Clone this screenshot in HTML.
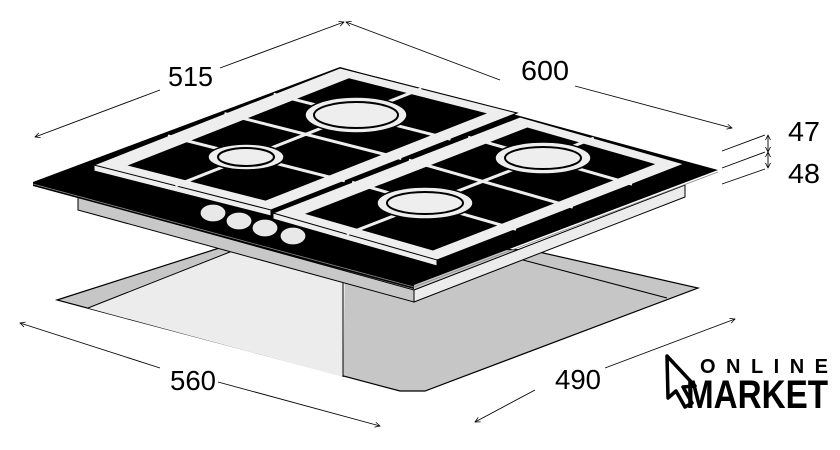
<!DOCTYPE html>
<html><head><style>html,body{margin:0;padding:0;background:#fff}svg{display:block}</style></head>
<body>
<svg width="840" height="450" viewBox="0 0 840 450" xmlns="http://www.w3.org/2000/svg" font-family="Liberation Sans, sans-serif">
<defs>
<marker id="ar" viewBox="0 0 10 10" refX="9" refY="5" markerWidth="7" markerHeight="7" orient="auto-start-reverse"><path d="M1,1 L9,5 L1,9" fill="none" stroke="#000" stroke-width="1.2"/></marker>
</defs>
<!-- cutout -->
<polygon points="57,300 235,243 530,250 698,288 425,391 400,391" fill="#c6c6c6" stroke="#000" stroke-width="1.2"/>
<polygon points="88,308 235,250 345,282 343,377" fill="#ececec"/>
<line x1="88" y1="308" x2="235" y2="250" stroke="#000"/>
<line x1="343" y1="282" x2="343" y2="377" stroke="#000"/>
<line x1="523" y1="260" x2="667" y2="298" stroke="#000"/>
<!-- body -->
<polygon points="78,197 414,290 414,302 78,210" fill="#c8c8c8" stroke="#000"/>
<polygon points="414,290 685,185 685,197 414,302" fill="#ececec" stroke="#000"/>
<!-- glass -->
<polygon points="33,182 340,67 718,170 414,285 414,289 33,186" fill="#000"/>
<polyline points="33,184 414,287 718,172" fill="none" stroke="#888" stroke-width="0.8"/>
<!-- knobs -->
<g fill="#e8e8e8" stroke="#000" stroke-width="1.2">
<ellipse cx="213" cy="213" rx="13" ry="9"/><ellipse cx="239" cy="221" rx="13" ry="9"/><ellipse cx="265" cy="228" rx="13" ry="9"/><ellipse cx="293" cy="236" rx="13" ry="9"/>
</g>
<!-- left grate -->
<g>
<polygon points="94,165 340,68 517,113 271,210 271,216 94,171" fill="#eee" stroke="#000"/>
<polygon points="94,165 340,68 517,113 271,210" fill="#eee" stroke="#000"/>
<g transform="matrix(246,-97,177,45,94,165)">
<polygon points="0.05,0.12 0.95,0.12 0.95,0.9 0.05,0.9" fill="#000"/>
<g stroke="#eee" stroke-width="3" fill="none">
<line x1="0.3" y1="0" x2="0.3" y2="1" vector-effect="non-scaling-stroke"/>
<line x1="0.53" y1="0" x2="0.53" y2="1" vector-effect="non-scaling-stroke"/>
<line x1="0.73" y1="0" x2="0.73" y2="1" vector-effect="non-scaling-stroke"/>
<line x1="0" y1="0.46" x2="1" y2="0.46" vector-effect="non-scaling-stroke"/>
</g></g>
</g>
<!-- right grate -->
<g>
<polygon points="273,213 520,117 684,164 437,260 437,266 273,219" fill="#eee" stroke="#000"/>
<polygon points="273,213 520,117 684,164 437,260" fill="#eee" stroke="#000"/>
<g transform="matrix(247,-96,164,47,273,213)">
<polygon points="0.05,0.12 0.95,0.12 0.95,0.9 0.05,0.9" fill="#000"/>
<g stroke="#eee" stroke-width="3" fill="none">
<line x1="0.32" y1="0" x2="0.32" y2="1" vector-effect="non-scaling-stroke"/>
<line x1="0.55" y1="0" x2="0.55" y2="1" vector-effect="non-scaling-stroke"/>
<line x1="0.79" y1="0" x2="0.79" y2="1" vector-effect="non-scaling-stroke"/>
<line x1="0" y1="0.45" x2="1" y2="0.45" vector-effect="non-scaling-stroke"/>
</g></g>
</g>
<!-- burners -->
<g stroke="#000" stroke-width="1.5">
<ellipse cx="356" cy="115" rx="51" ry="18" fill="#eee"/><ellipse cx="356" cy="115" rx="42" ry="13" fill="#eee" stroke-width="2"/>
<ellipse cx="246" cy="157" rx="38" ry="13" fill="#eee"/><ellipse cx="246" cy="157" rx="28" ry="9" fill="#eee" stroke-width="2"/>
<ellipse cx="543" cy="158" rx="48" ry="16" fill="#eee"/><ellipse cx="543" cy="158" rx="38" ry="11" fill="#eee" stroke-width="2"/>
<ellipse cx="425" cy="203" rx="48" ry="16" fill="#eee"/><ellipse cx="425" cy="203" rx="38" ry="11" fill="#eee" stroke-width="2"/>
</g>
<!-- dimensions -->
<g stroke="#000" stroke-width="0.9" fill="none">
<line x1="160" y1="90" x2="35" y2="137" marker-end="url(#ar)"/>
<line x1="220" y1="68" x2="344" y2="22" marker-end="url(#ar)"/>
<line x1="500" y1="80" x2="346" y2="22" marker-end="url(#ar)"/>
<line x1="575" y1="86" x2="732" y2="128" marker-end="url(#ar)"/>
<line x1="722" y1="151" x2="765" y2="135"/>
<line x1="722" y1="168" x2="765" y2="152"/>
<line x1="722" y1="184" x2="765" y2="169"/>
<line x1="768" y1="135" x2="768" y2="152" marker-start="url(#ar)" marker-end="url(#ar)"/>
<line x1="768" y1="152" x2="768" y2="168" marker-start="url(#ar)" marker-end="url(#ar)"/>
<line x1="160" y1="368" x2="20" y2="323" marker-end="url(#ar)"/>
<line x1="218" y1="382" x2="380" y2="426" marker-end="url(#ar)"/>
<line x1="535" y1="390" x2="475" y2="422" marker-end="url(#ar)"/>
<line x1="605" y1="368" x2="735" y2="319" marker-end="url(#ar)"/>
</g>
<g font-size="28" fill="#000">
<text x="168" y="86" textLength="45" lengthAdjust="spacingAndGlyphs">515</text>
<text x="521" y="80" textLength="48" lengthAdjust="spacingAndGlyphs">600</text>
<text x="788" y="141" textLength="32" lengthAdjust="spacingAndGlyphs">47</text>
<text x="788" y="183" textLength="32" lengthAdjust="spacingAndGlyphs">48</text>
<text x="170" y="390" textLength="46" lengthAdjust="spacingAndGlyphs">560</text>
<text x="555" y="389" textLength="46" lengthAdjust="spacingAndGlyphs">490</text>
</g>
<!-- logo -->
<path d="M667,356 L695,386 L683,387 L692,403 L685,407 L676,391 L668,398 Z" fill="#fff" stroke="#000" stroke-width="3.5" stroke-linejoin="round"/>
<text x="700" y="373" font-size="20" font-weight="bold" textLength="128" lengthAdjust="spacing">ONLINE</text>
<text x="686" y="408" font-size="40" font-weight="bold" textLength="142" lengthAdjust="spacingAndGlyphs">MARKET</text>
</svg>
</body></html>
